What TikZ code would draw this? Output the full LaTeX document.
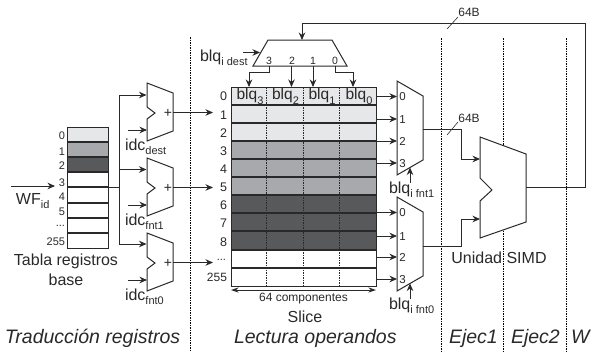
\documentclass[tikz,border=0pt]{standalone}
\usepackage{fontspec}
\setmainfont{Liberation Sans}
\usetikzlibrary{arrows.meta}
\definecolor{ink}{HTML}{2B2829}
\definecolor{lgray}{HTML}{E6E7E8}
\definecolor{mgray}{HTML}{A7A9AC}
\definecolor{dgray}{HTML}{58595B}
\newcommand{\lowtxt}[1]{\raisebox{-.28em}{\fontsize{11pt}{12pt}\selectfont #1}}
\tikzset{
  x=1pt,y=-1pt,
  wire/.style={draw=ink,line width=.9pt},
  arr/.style={wire,-{Stealth[length=7.5pt,width=6.5pt]}},
  darr/.style={wire,{Stealth[length=7.5pt,width=5pt]}-{Stealth[length=7.5pt,width=5pt]}},
  block/.style={draw=ink,line width=1pt,fill=white,line join=miter},
  rowline/.style={draw=ink,line width=1.2pt},
  stage/.style={draw=black,line width=.6pt,dash pattern=on 1.5pt off 1pt},
  coldiv/.style={draw=ink,line width=.7pt,dash pattern=on 1.5pt off 1pt},
  txt/.style={inner sep=0pt,outer sep=0pt,text=ink},
  big/.style={txt,font=\fontsize{16pt}{18pt}\selectfont},
  lab/.style={txt,font=\fontsize{12pt}{14pt}\selectfont},
  small/.style={txt,font=\fontsize{11pt}{12pt}\selectfont},
  muxnum/.style={txt,font=\fontsize{10.5pt}{11pt}\selectfont},
  stagelab/.style={txt,font=\fontsize{19.5pt}{22pt}\selectfont\itshape,anchor=base west},
}
\begin{document}
\begin{tikzpicture}
\useasboundingbox (0,0) rectangle (591,351);
% stage separators
\coordinate (s0t) at (190,37); \coordinate (s0b) at (190,351);
\coordinate (s1t) at (441,38); \coordinate (s1b) at (441,351);
\coordinate (s2t) at (503,38); \coordinate (s2b) at (503,351);
\coordinate (s3t) at (566,38); \coordinate (s3b) at (566,351);
\draw[stage] (s0t)--(s0b); \draw[stage] (s1t)--(s1b); \draw[stage] (s2t)--(s2b); \draw[stage] (s3t)--(s3b);
% base register table
\fill[lgray] (67,127) rectangle (108,142);
\fill[mgray] (67,142) rectangle (108,157);
\fill[dgray] (67,157) rectangle (108,172);
\foreach \yy in {142,157,172,187,203,218,233}{\draw[rowline] (67,\yy)--(108,\yy);}
\draw[wire,line width=1pt] (67,127) rectangle (108,248);
\foreach \nm/\yy/\lbl in {a/136/0,b/152/1,c/166/2,d/183/3,e/197/4,f/212/5,h/242/255}{
  \node[small,anchor=east] (reg\nm) at (65,\yy) {\lbl};}
\node[small,anchor=east] (regg) at (65,226) {...};
\node[big] (tabla1) at (66,261) {Tabla registros};
\node[big] (tabla2) at (66,280) {base};
\coordinate (wfin) at (11,186); \coordinate (wfout) at (55,186);
\draw[arr] (wfin)--(wfout);
\node[big,anchor=west] (wf) at (16,201) {WF\lowtxt{id}};
% adders
\foreach \nm/\dy in {d/0,u/75,v/150}{
  \begin{scope}[yshift=-\dy pt]
  \draw[block] (147,83)--(173,93)--(173,131)--(147,141)--(147,119)--(155,113)--(147,107)--cycle;
  \node[txt,font=\fontsize{14pt}{15pt}\selectfont] (plus\nm) at (168,113) {+};
  \coordinate (add\nm idx) at (147,130);
  \coordinate (idx\nm) at (128,130);
  \coordinate (add\nm out) at (173,112.5);
  \coordinate (out\nm) at (213,112.5);
  \end{scope}
  \draw[arr] (idx\nm)--(add\nm idx);
  \draw[arr] (add\nm out)--(out\nm);
}
\coordinate (bus) at (119,187);
\draw[wire] (108,187)--(bus);
\coordinate (bust) at (119,95);\coordinate (busb) at (119,244);
\draw[wire] (bust)--(busb);
\draw[arr] (bust)--(146.5,95);
\draw[arr] (119,169.5)--(146.5,169.5);
\draw[arr] (busb)--(146.5,244);
\node[big,anchor=west] (idcd) at (125,147) {idc\lowtxt{dest}};
\node[big,anchor=west] (idcu) at (125,222) {idc\lowtxt{fnt1}};
\node[big,anchor=west] (idcv) at (125,297) {idc\lowtxt{fnt0}};
% main table
\fill[lgray] (231,87) rectangle (376,141);
\fill[mgray] (231,141) rectangle (376,195);
\fill[dgray] (231,195) rectangle (376,250);
\foreach \xx in {266,303,339.5}{\draw[coldiv] (\xx,87)--(\xx,286);}
\foreach \yy in {105,123,141,159,177,195,213,231,250,268}{\draw[rowline] (231,\yy)--(376,\yy);}
\draw[wire,line width=1pt] (231,87) rectangle (376,286);
\foreach \nm/\yy/\lbl in {a/96/0,b/115/1,c/133/2,d/151/3,e/169/4,f/187/5,g/205/6,h/223/7,i/242/8}{
  \node[big,font=\fontsize{12.5pt}{14pt}\selectfont,anchor=east] (row\nm) at (227,\yy) {\lbl};}
\node[small,anchor=east] (rowdots) at (226,260) {...};
\node[lab,anchor=east] (rowlast) at (227,277.5) {255};
\foreach \nm/\xx/\ss in {c3/250/3,c2/285.5/2,c1/322/1,c0/359/0}{
  \node[big,font=\fontsize{15.5pt}{17pt}\selectfont] (blq\nm) at (\xx,96.5) {blq\lowtxt{\ss}};}
% top mux
\draw[block] (268,40)--(332,40)--(347,66)--(253,66)--cycle;
\foreach \nm/\xx/\lbl in {a/269/3,b/292/2,c/313/1,d/335/0}{\node[muxnum] (tm\nm) at (\xx,61) {\lbl};}
\draw[arr] (269.5,66)--(269.5,72)--(249,72)--(249,87);
\draw[arr] (291.5,66)--(291.5,87);
\draw[arr] (313,66)--(313,87);
\draw[arr] (335,66)--(335,72)--(353,72)--(353,87);
\node[big,anchor=west] (blqd) at (200,58) {blq\lowtxt{i dest}};
\coordinate (blqdin) at (243,52.5); \coordinate (blqdend) at (260,52.5);
\draw[arr] (blqdin)--(blqdend);
% read muxes
\foreach \nm/\dy in {p/0,q/116}{
 \begin{scope}[yshift=-\dy pt]
 \draw[block] (397,81)--(423,96)--(423,160)--(397,175)--cycle;
 \end{scope}
}
\foreach \nm/\yy/\lbl in {a/96.5/0,b/119/1,c/141/2,d/163/3}{
  \draw[arr] (376,\yy)--(397,\yy);
  \node[muxnum,font=\fontsize{11.5pt}{12pt}\selectfont] (mp\nm) at (402.5,\yy+.5) {\lbl};}
\foreach \nm/\yy/\lbl in {a/212.5/0,b/236/1,c/257/2,d/279/3}{
  \draw[arr] (376,\yy)--(397,\yy);
  \node[muxnum,font=\fontsize{11.5pt}{12pt}\selectfont] (mq\nm) at (402.5,\yy+.5) {\lbl};}
\coordinate (ctp) at (410,183); \coordinate (ctph) at (410,167.5);
\coordinate (ctq) at (410,299); \coordinate (ctqh) at (410,283.5);
\draw[arr] (ctp)--(ctph);
\draw[arr] (ctq)--(ctqh);
\node[big,anchor=west] (blqp) at (389,190) {blq\lowtxt{i fnt1}};
\node[big,anchor=west] (blqq) at (389,306) {blq\lowtxt{i fnt0}};
% width
\coordinate (wl) at (231,290); \coordinate (wr) at (376,290);
\draw[darr] (wl)--(wr);
\node[lab] (comp) at (303.5,298.5) {64 componentes};
\node[big] (slice) at (305,316.5) {Slice};
% SIMD
\draw[block] (480,137)--(526,154)--(526,222)--(480,238)--(480,201)--(492,190)--(480,178)--cycle;
\draw[arr] (423,129.5)--(461,129.5)--(461,159)--(480,159);
\draw[arr] (423,246)--(461,246)--(461,219)--(480,219);
\node[big] (simd) at (499,258) {Unidad SIMD};
% feedback
\coordinate (fbs) at (526,187.5); \coordinate (fbr) at (585,187.5);
\coordinate (fbt) at (585,23); \coordinate (fbl) at (302,23); \coordinate (fbe) at (302,40);
\draw[arr] (fbs)--(fbr)--(fbt)--(fbl)--(fbe);
\coordinate (t1a) at (447,29); \coordinate (t1b) at (458,17);
\draw[draw=ink,line width=.6pt] (t1a)--(t1b);
\node[lab] (w1) at (469,12) {64B};
\coordinate (t2a) at (447,135); \coordinate (t2b) at (458,122);
\draw[draw=ink,line width=.6pt] (t2a)--(t2b);
\node[lab] (w2) at (469,118) {64B};
% stage labels
\node[stagelab] (st0) at (5,343) {Traducción registros};
\node[stagelab] (st1) at (234,343) {Lectura operandos};
\node[stagelab] (st2) at (449,343) {Ejec1};
\node[stagelab] (st3) at (511,343) {Ejec2};
\node[stagelab] (st4) at (571,343) {W};
\end{tikzpicture}
\end{document}
